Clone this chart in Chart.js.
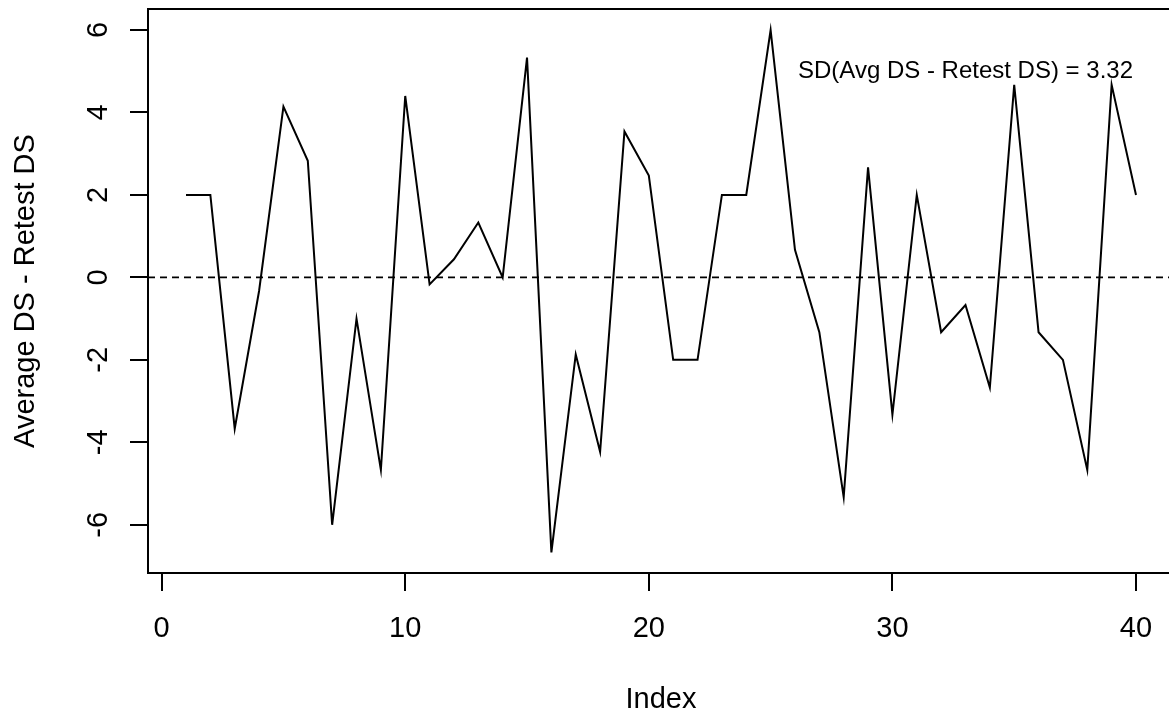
<!DOCTYPE html>
<html>
<head>
<meta charset="utf-8">
<script src="https://cdn.jsdelivr.net/npm/chart.js@4"></script>
<style>
    html, body { margin: 0; padding: 0; background: #fff; overflow: hidden; }
    #wrap { width: 1176px; height: 717px; }
    canvas { display: block; }
</style>
</head>
<body>
<div id="wrap"><canvas id="chart" width="1176" height="717"></canvas></div>
<script>
// observation index and the difference (average DS minus retest DS)
const index = [1, 2, 3, 4, 5, 6, 7, 8, 9, 10,
               11, 12, 13, 14, 15, 16, 17, 18, 19, 20,
               21, 22, 23, 24, 25, 26, 27, 28, 29, 30,
               31, 32, 33, 34, 35, 36, 37, 38, 39, 40];
const diff = [2, 2, -3.67, -0.33, 4.14, 2.83, -6, -1, -4.67, 4.4,
              -0.17, 0.44, 1.33, 0, 5.33, -6.67, -1.87, -4.23, 3.54, 2.47,
              -2, -2, 2, 2, 6, 0.67, -1.33, -5.33, 2.67, -3.33,
              2, -1.33, -0.67, -2.67, 4.67, -1.33, -2, -4.67, 4.67, 2];

const xTicks = [0, 10, 20, 30, 40];
const yTicks = [-6, -4, -2, 0, 2, 4, 6];
const xRange = [-0.56, 41.56];
const yRange = [-7.17, 6.51];

const sdLabel = 'SD(Avg DS - Retest DS) = 3.32';
const sdLabelAt = { x: 33, y: 5 };

const FONT = '"Liberation Sans", Arial, sans-serif';

Chart.defaults.color = '#000';
Chart.defaults.font.family = FONT;

// frame, dashed zero reference, rotated y labels and the SD note
const decorations = {
    id: 'decorations',
    afterDatasetsDraw(chart) {
        const { ctx, chartArea: a, scales: { y } } = chart;
        const y0 = y.getPixelForValue(0);
        ctx.save();
        ctx.strokeStyle = '#000';
        ctx.lineWidth = 1.6;
        ctx.setLineDash([7, 5]);
        ctx.beginPath();
        ctx.moveTo(a.left, y0);
        ctx.lineTo(a.right, y0);
        ctx.stroke();
        ctx.restore();
    },
    afterDraw(chart) {
        const { ctx, chartArea: a, scales: { x, y } } = chart;
        ctx.save();
        ctx.strokeStyle = '#000';
        ctx.lineWidth = 2;
        ctx.strokeRect(a.left, a.top, a.right - a.left, a.bottom - a.top);

        ctx.fillStyle = '#000';
        ctx.font = '29px ' + FONT;
        ctx.textAlign = 'center';
        ctx.textBaseline = 'alphabetic';
        yTicks.forEach(v => {
            ctx.save();
            ctx.translate(a.left - 41, y.getPixelForValue(v));
            ctx.rotate(-Math.PI / 2);
            ctx.fillText(String(v), 0, 0);
            ctx.restore();
        });

        ctx.font = '24px ' + FONT;
        ctx.textBaseline = 'middle';
        ctx.fillText(sdLabel, x.getPixelForValue(sdLabelAt.x), y.getPixelForValue(sdLabelAt.y));
        ctx.restore();
    }
};

new Chart(document.getElementById('chart'), {
    type: 'line',
    data: {
        datasets: [{
            data: index.map((i, k) => ({ x: i, y: diff[k] })),
            borderColor: '#000',
            borderWidth: 2,
            pointRadius: 0,
            tension: 0,
            fill: false
        }]
    },
    options: {
        responsive: false,
        animation: false,
        devicePixelRatio: 1,
        layout: {
            padding: { top: 9, right: 2, bottom: 0, left: 0 }
        },
        plugins: {
            legend: { display: false },
            tooltip: { enabled: false }
        },
        scales: {
            x: {
                type: 'linear',
                min: xRange[0],
                max: xRange[1],
                afterBuildTicks: scale => {
                    scale.ticks = xTicks.map(v => ({ value: v }));
                },
                afterFit: scale => { scale.height = 144; },
                ticks: {
                    font: { size: 29 },
                    padding: 21,
                    maxRotation: 0
                },
                grid: {
                    drawOnChartArea: false,
                    drawTicks: true,
                    tickLength: 18,
                    color: '#000',
                    lineWidth: 2
                },
                border: { display: false },
                title: {
                    display: true,
                    text: 'Index',
                    font: { size: 29 },
                    padding: { top: 0, bottom: 0 }
                }
            },
            y: {
                type: 'linear',
                min: yRange[0],
                max: yRange[1],
                afterBuildTicks: scale => {
                    scale.ticks = yTicks.map(v => ({ value: v }));
                },
                afterFit: scale => { scale.width = 148; },
                ticks: { display: false },
                grid: {
                    drawOnChartArea: false,
                    drawTicks: true,
                    tickLength: 18,
                    color: '#000',
                    lineWidth: 2
                },
                border: { display: false },
                title: {
                    display: true,
                    text: 'Average DS - Retest DS',
                    font: { size: 29 },
                    padding: { top: 9, bottom: 0 }
                }
            }
        }
    },
    plugins: [decorations]
});
</script>
</body>
</html>
